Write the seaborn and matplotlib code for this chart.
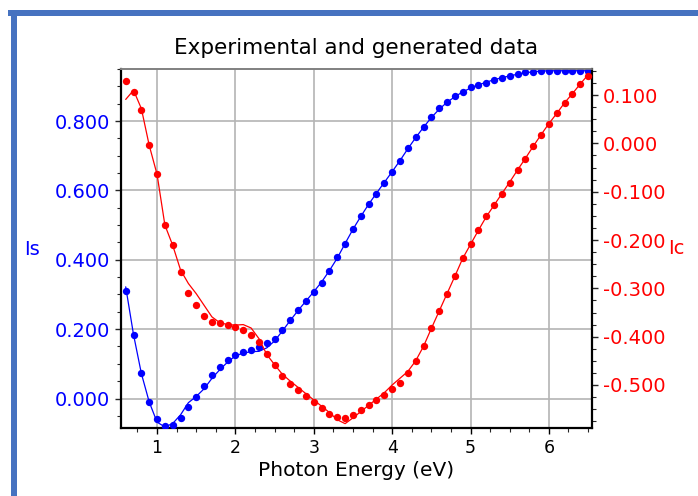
import matplotlib
matplotlib.use("Agg")
import matplotlib.pyplot as plt
from matplotlib.patches import Rectangle
from matplotlib.ticker import MultipleLocator, FormatStrFormatter
import numpy as np
import seaborn as sns

# photon energy grid (eV)
energy = [0.6, 0.7, 0.8, 0.9, 1.0, 1.1, 1.2, 1.3, 1.4, 1.5,
          1.6, 1.7, 1.8, 1.9, 2.0, 2.1, 2.2, 2.3, 2.4, 2.5,
          2.6, 2.7, 2.8, 2.9, 3.0, 3.1, 3.2, 3.3, 3.4, 3.5,
          3.6, 3.7, 3.8, 3.9, 4.0, 4.1, 4.2, 4.3, 4.4, 4.5,
          4.6, 4.7, 4.8, 4.9, 5.0, 5.1, 5.2, 5.3, 5.4, 5.5,
          5.6, 5.7, 5.8, 5.9, 6.0, 6.1, 6.2, 6.3, 6.4, 6.5]

# Is, experimental and generated
is_exp = [0.310, 0.184, 0.073, -0.009, -0.058, -0.080, -0.076, -0.055, -0.024, 0.004,
          0.037, 0.069, 0.090, 0.111, 0.126, 0.134, 0.140, 0.148, 0.159, 0.173,
          0.198, 0.227, 0.256, 0.282, 0.307, 0.334, 0.369, 0.407, 0.445, 0.490,
          0.527, 0.561, 0.591, 0.622, 0.652, 0.684, 0.722, 0.753, 0.782, 0.811,
          0.837, 0.856, 0.872, 0.885, 0.898, 0.904, 0.911, 0.918, 0.923, 0.930,
          0.935, 0.941, 0.942, 0.944, 0.944, 0.944, 0.944, 0.944, 0.944, 0.944]
is_gen = [0.322, 0.184, 0.072, -0.010, -0.068, -0.082, -0.072, -0.047, -0.012, 0.006,
          0.028, 0.058, 0.083, 0.105, 0.123, 0.131, 0.135, 0.136, 0.146, 0.166,
          0.195, 0.225, 0.254, 0.281, 0.308, 0.336, 0.369, 0.405, 0.447, 0.488,
          0.525, 0.560, 0.592, 0.623, 0.654, 0.686, 0.720, 0.752, 0.782, 0.810,
          0.834, 0.854, 0.870, 0.884, 0.895, 0.904, 0.912, 0.919, 0.925, 0.930,
          0.935, 0.939, 0.942, 0.944, 0.945, 0.945, 0.945, 0.945, 0.945, 0.945]

# Ic, experimental and generated
ic_exp = [0.130, 0.107, 0.070, -0.004, -0.064, -0.169, -0.211, -0.267, -0.309, -0.335,
          -0.358, -0.369, -0.371, -0.376, -0.379, -0.387, -0.397, -0.412, -0.436, -0.459,
          -0.481, -0.498, -0.510, -0.523, -0.535, -0.547, -0.559, -0.566, -0.568, -0.563,
          -0.552, -0.542, -0.531, -0.521, -0.509, -0.495, -0.476, -0.451, -0.420, -0.383,
          -0.347, -0.311, -0.275, -0.238, -0.209, -0.180, -0.151, -0.128, -0.104, -0.081,
          -0.055, -0.032, -0.006, 0.018, 0.041, 0.062, 0.084, 0.102, 0.123, 0.139]
ic_gen = [0.091, 0.110, 0.072, -0.004, -0.064, -0.169, -0.211, -0.262, -0.290, -0.311,
          -0.335, -0.359, -0.371, -0.375, -0.376, -0.375, -0.382, -0.404, -0.437, -0.458,
          -0.478, -0.492, -0.505, -0.518, -0.531, -0.544, -0.557, -0.572, -0.580, -0.568,
          -0.555, -0.542, -0.529, -0.516, -0.500, -0.486, -0.472, -0.450, -0.420, -0.383,
          -0.347, -0.311, -0.275, -0.238, -0.209, -0.180, -0.152, -0.128, -0.104, -0.080,
          -0.055, -0.031, -0.006, 0.018, 0.041, 0.062, 0.084, 0.103, 0.123, 0.142]

sns.set_style('white')
plt.rcParams['font.family'] = ['DejaVu Sans']
plt.rcParams['text.color'] = 'black'
plt.rcParams['axes.labelcolor'] = 'black'

fig = plt.figure(figsize=(6.98, 4.96), dpi=100)
ax = fig.add_axes([121/698, 68/496, 471/698, 359/496])
ax2 = ax.twinx()

blue = '#0000ff'
red = '#ff0000'

sns.lineplot(x=energy, y=is_gen, ax=ax, color=blue, lw=0.9, zorder=3)
sns.scatterplot(x=energy, y=is_exp, ax=ax, color=blue, s=28, linewidth=0, zorder=4)
sns.lineplot(x=energy, y=ic_gen, ax=ax2, color=red, lw=0.9, zorder=3)
sns.scatterplot(x=energy, y=ic_exp, ax=ax2, color=red, s=28, linewidth=0, zorder=4)

ax.set_xlim(0.54, 6.55)
ax.set_ylim(-0.085, 0.95)
ax2.set_ylim(-0.589, 0.154)

ax.xaxis.set_major_locator(MultipleLocator(1))
ax.xaxis.set_minor_locator(MultipleLocator(0.25))
ax.yaxis.set_major_locator(MultipleLocator(0.2))
ax.yaxis.set_minor_locator(MultipleLocator(0.05))
ax.yaxis.set_major_formatter(FormatStrFormatter('%.3f'))
ax2.yaxis.set_major_locator(MultipleLocator(0.1))
ax2.yaxis.set_minor_locator(MultipleLocator(0.025))
ax2.yaxis.set_major_formatter(FormatStrFormatter('%.3f'))

ax.grid(True, which='major', color='#b4b4b4', lw=1.2)
ax.set_axisbelow(True)

ax.tick_params(axis='x', which='major', direction='out', length=4, width=1,
               bottom=True, labelsize=12.5, pad=4, colors='black')
ax.tick_params(axis='x', which='minor', direction='out', length=3, width=0.8, bottom=True)
ax.tick_params(axis='y', which='major', direction='out', length=4, width=1,
               left=True, labelsize=14, pad=4, labelcolor=blue)
ax.tick_params(axis='y', which='minor', direction='out', length=3, width=0.8, left=True)
ax2.tick_params(axis='y', which='major', direction='out', length=4, width=1,
                right=True, labelsize=14, pad=4, labelcolor=red)
ax2.tick_params(axis='y', which='minor', direction='out', length=3, width=0.8, right=True)

for a in (ax, ax2):
    a.spines['top'].set_color('#808080')
    a.spines['top'].set_linewidth(1.2)
ax.spines['left'].set_color('black')
ax.spines['left'].set_linewidth(1.6)
ax.spines['bottom'].set_color('black')
ax.spines['bottom'].set_linewidth(1.6)
ax.spines['right'].set_visible(False)
ax2.spines['right'].set_color('black')
ax2.spines['right'].set_linewidth(1.6)
ax2.spines['left'].set_visible(False)
ax2.spines['bottom'].set_visible(False)

ax.set_title('Experimental and generated data', fontsize=15.5, pad=11)
ax.set_xlabel('Photon Energy (eV)', fontsize=14.5, labelpad=3)
ax.set_ylabel('Is', color=blue, fontsize=14, rotation=0, ha='center', va='center')
ax.yaxis.set_label_coords(-0.19, 0.497)
ax2.set_ylabel('Ic', color=red, fontsize=14, rotation=0, ha='center', va='center')
ax2.yaxis.set_label_coords(1.18, 0.50)

# blue frame on the top and left edges
frame = '#4672c0'
fig.add_artist(Rectangle((8/698, 1 - 16/496), 690/698, 6/496, transform=fig.transFigure,
                         facecolor=frame, edgecolor='none'))
fig.add_artist(Rectangle((11/698, 0), 6/698, 1 - 10/496, transform=fig.transFigure,
                         facecolor=frame, edgecolor='none'))

fig.savefig('out.png', dpi=100)
